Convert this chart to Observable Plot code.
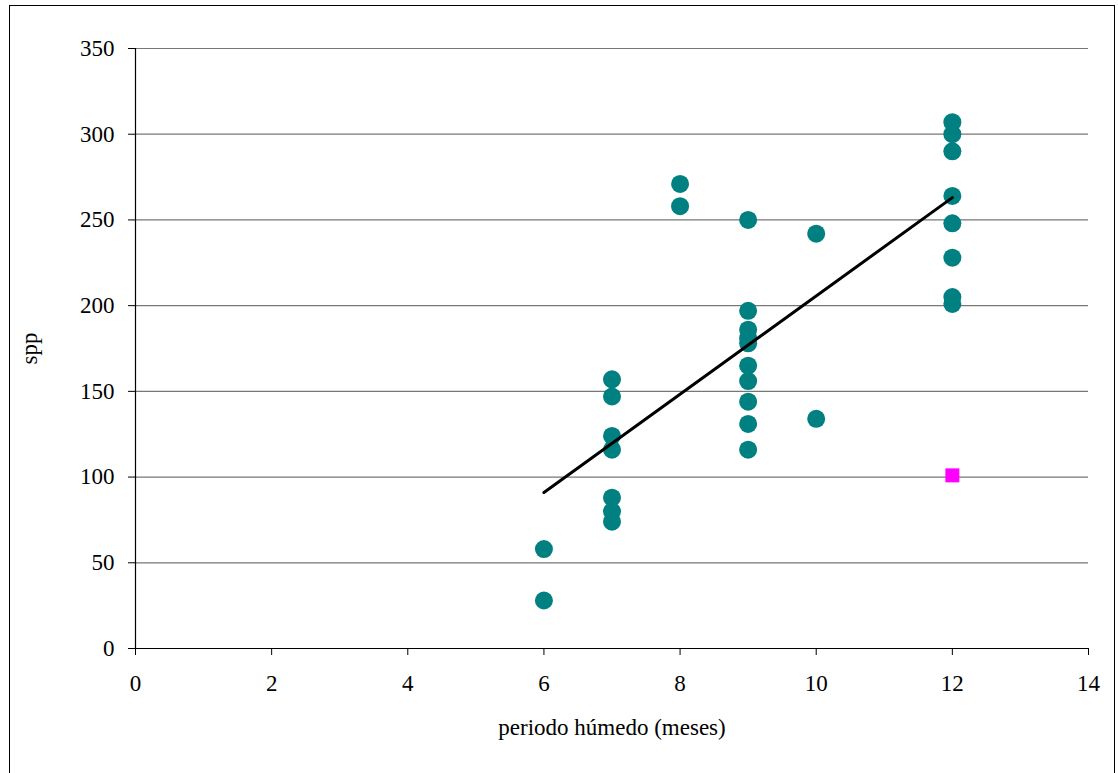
<!DOCTYPE html>
<html>
<head>
<meta charset="utf-8">
<script src="https://cdn.jsdelivr.net/npm/d3@7"></script>
<script src="https://cdn.jsdelivr.net/npm/@observablehq/plot@0.6"></script>
<style>
  html, body { margin: 0; padding: 0; background: #fff; }
  #wrap { position: relative; width: 1118px; height: 773px; overflow: hidden; }
  #frame { position: absolute; left: 9px; top: 5px; width: 1106px; height: 800px; border: 1.5px solid #000; box-sizing: border-box; pointer-events: none; }
  #chart { position: absolute; left: 0; top: 0; }
</style>
</head>
<body>
<div id="wrap"><div id="chart"></div><div id="frame"></div></div>
<script>
// Wet period (months) and species count for each site
const months = [6, 6, 7, 7, 7, 7, 7, 7, 7, 8, 8, 9, 9, 9, 9, 9, 9, 9, 9, 9, 9, 10, 10, 12, 12, 12, 12, 12, 12, 12, 12];
const spp    = [58, 28, 157, 147, 124, 116, 88, 80, 74, 271, 258, 250, 197, 186, 181, 178, 165, 156, 144, 131, 116, 242, 134, 307, 300, 290, 264, 248, 228, 205, 201];
// Outlier point (magenta square)
const outlierMonths = [12];
const outlierSpp = [101];
// Trend line endpoints
const trendMonths = [6, 12];
const trendSpp = [91, 263];
// Axis ticks
const xTicks = [0, 2, 4, 6, 8, 10, 12, 14];
const yTicks = [0, 50, 100, 150, 200, 250, 300, 350];

const points = months.map((m, i) => ({x: m, y: spp[i]}));
const outliers = outlierMonths.map((m, i) => ({x: m, y: outlierSpp[i]}));
const trend = trendMonths.map((m, i) => ({x: m, y: trendSpp[i]}));

const chart = Plot.plot({
  width: 1118,
  height: 773,
  marginLeft: 135,
  marginRight: 30,
  marginTop: 48,
  marginBottom: 125,
  style: {fontFamily: "'Liberation Serif', 'Times New Roman', serif", fontSize: "23px", color: "#000", background: "transparent"},
  x: {domain: [0, 14]},
  y: {domain: [0, 350]},
  marks: [
    Plot.ruleY(yTicks.filter(d => d > 0), {stroke: "#777", strokeWidth: 1.2, strokeOpacity: 1}),
    Plot.ruleY([0], {stroke: "#000", strokeWidth: 1.2}),
    Plot.ruleX([0], {stroke: "#000", strokeWidth: 1.2}),
    Plot.axisY({ticks: yTicks, tickSize: 7, tickPadding: 14, label: "spp", labelAnchor: "center", labelArrow: "none", labelOffset: 115, stroke: "#000"}),
    Plot.axisX({ticks: xTicks, tickSize: 7, tickPadding: 19, label: "periodo húmedo (meses)", labelAnchor: "center", labelArrow: "none", labelOffset: 86, stroke: "#000"}),
    Plot.dot(points, {x: "x", y: "y", r: 9, fill: "#008080", stroke: "none"}),
    Plot.dot(outliers, {x: "x", y: "y", symbol: "square", r: 7.9, fill: "#FF00FF", stroke: "none"}),
    Plot.line(trend, {x: "x", y: "y", stroke: "#000", strokeWidth: 3})
  ]
});
document.getElementById("chart").appendChild(chart);
</script>
</body>
</html>
